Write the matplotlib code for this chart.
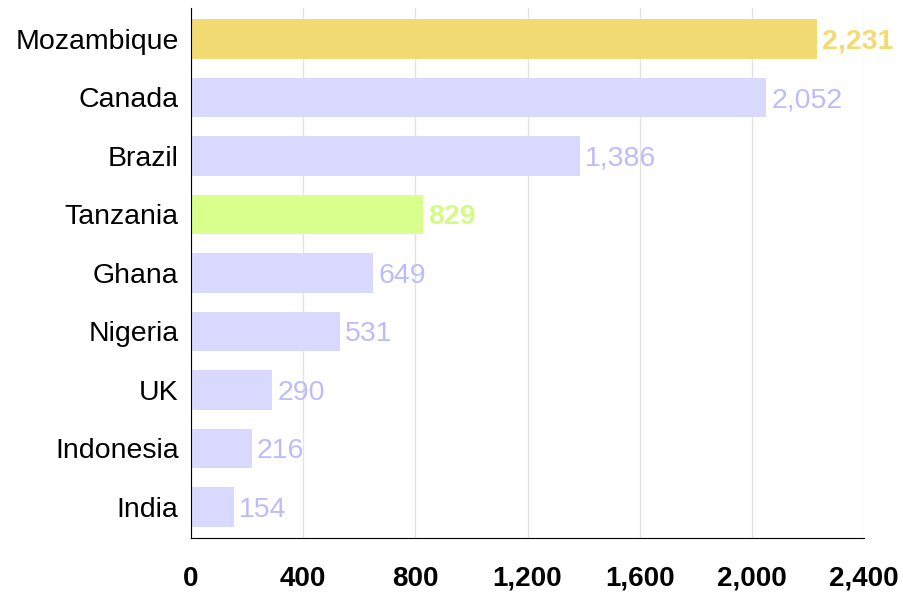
import matplotlib
matplotlib.use('Agg')
import matplotlib.pyplot as plt
from matplotlib.ticker import FuncFormatter

plt.rcParams['font.family'] = ['Liberation Sans', 'DejaVu Sans']

# ========== 数据 ==========
countries = ['Mozambique', 'Canada', 'Brazil', 'Tanzania', 'Ghana',
             'Nigeria', 'UK', 'Indonesia', 'India']
values = [2231, 2052, 1386, 829, 649, 531, 290, 216, 154]
highlight = {'Mozambique': ('#f3db74', '#f3db74'),
             'Tanzania': ('#d9ff8c', '#d4fc85')}
base_color = '#d9d9ff'
base_text = '#bcbcfa'
xticks = [0, 400, 800, 1200, 1600, 2000, 2400]

# ========== 画图 ==========
fig = plt.figure(figsize=(9.04, 5.95), dpi=100)
ax = fig.add_axes([0.2113, 0.0958, 0.7445, 0.8908])

ypos = list(range(len(countries)))
for y, name, v in zip(ypos, countries, values):
    bar_c, txt_c = highlight.get(name, (base_color, base_text))
    ax.barh(y, v, height=0.68, color=bar_c, zorder=2)
    ax.text(v + 18, y, '{:,}'.format(v), va='center_baseline', ha='left',
            fontsize=20.5, color=txt_c,
            fontweight='bold' if name in highlight else 'normal', zorder=3)

ax.set_ylim(len(countries) - 0.47, -0.53)
ax.set_xlim(0, 2400)
ax.set_yticks(ypos)
ax.set_yticklabels(countries, fontsize=20.5)
ax.set_xticks(xticks)
ax.xaxis.set_major_formatter(FuncFormatter(lambda x, p: '{:,}'.format(int(x))))
for lbl in ax.get_xticklabels():
    lbl.set_fontweight('bold')
    lbl.set_fontsize(20)
ax.tick_params(axis='y', length=0, pad=9)
ax.tick_params(axis='x', length=0, pad=20)

ax.grid(axis='x', color='#e3e3e3', lw=1, zorder=0)
ax.set_axisbelow(True)
for s in ['top', 'right']:
    ax.spines[s].set_visible(False)
ax.spines['left'].set_color('black')
ax.spines['bottom'].set_color('black')

plt.savefig('out.png', dpi=100)
